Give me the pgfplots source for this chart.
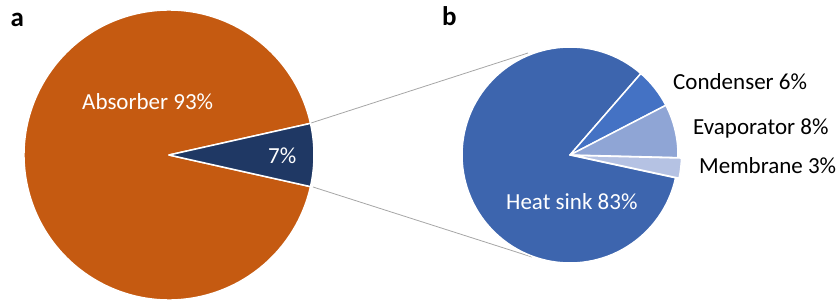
\documentclass[border=0pt]{standalone}
\usepackage{pgfplots}
\pgfplotsset{compat=1.18}
\usepackage{fontspec}
\setmainfont{Carlito}
\definecolor{absorber}{HTML}{C55A11}
\definecolor{other}{HTML}{1F3864}
\definecolor{heatsink}{HTML}{3D65AE}
\definecolor{condenser}{HTML}{4472C4}
\definecolor{evaporator}{HTML}{8FA5D5}
\definecolor{membrane}{HTML}{B5C2E3}
\definecolor{conn}{HTML}{A6A6A6}
% data (percent)
\def\vAbsorber{93}\def\vOther{7}
\def\vHeatsink{83}\def\vCondenser{6}\def\vEvaporator{8}\def\vMembrane{3}
% slice: cx, cy, r, start, end, colour
\newcommand\slice[6]{\fill[#6, draw=white, line width=1.5pt, line join=round]
  (axis cs:#1,#2) -- ++({#4}:#3pt) arc[start angle={#4}, end angle={#5}, radius=#3pt] -- cycle;}
\newcommand\lbl{\fontsize{23}{27}\selectfont}
\begin{document}
\begin{tikzpicture}
\begin{axis}[
  width=840pt, height=300pt, scale only axis,
  xmin=0, xmax=840, ymin=0, ymax=300,
  hide axis, clip=false,
]
% connector lines
\addplot[conn, line width=0.8pt] coordinates {(311,177) (528,247)};
\addplot[conn, line width=0.8pt] coordinates {(313,113) (532,43)};
% left pie
\slice{169}{145}{145}{3.6*\vOther/2}{360-3.6*\vOther/2}{absorber}
\slice{169}{145}{145}{-3.6*\vOther/2}{3.6*\vOther/2}{other}
% right pie, start angle -12.2
\slice{570}{145}{108}{-12.2+3.6*(\vMembrane+\vEvaporator+\vCondenser)}{-12.2+360}{heatsink}
\slice{570}{145}{108}{-12.2+3.6*(\vMembrane+\vEvaporator)}{-12.2+3.6*(\vMembrane+\vEvaporator+\vCondenser)}{condenser}
\slice{570}{145}{108}{-12.2+3.6*\vMembrane}{-12.2+3.6*(\vMembrane+\vEvaporator)}{evaporator}
\slice{573.5}{144.6}{108}{-12.2}{-12.2+3.6*\vMembrane}{membrane}
% labels
\node[anchor=base west, inner sep=0, text=white, font=\lbl] at (axis cs:82,190) {Absorber 93\%};
\node[anchor=base west, inner sep=0, text=white, font=\lbl] at (axis cs:268,137) {7\%};
\node[anchor=base west, inner sep=0, text=white, font=\lbl] at (axis cs:506,91) {Heat sink 83\%};
\node[anchor=base west, inner sep=0, font=\lbl] at (axis cs:673,210.7) {Condenser 6\%};
\node[anchor=base west, inner sep=0, font=\lbl] at (axis cs:693,165) {Evaporator 8\%};
\node[anchor=base west, inner sep=0, font=\lbl] at (axis cs:699,126.7) {Membrane 3\%};
\node[anchor=base west, inner sep=0, font={\fontsize{27}{32}\selectfont\bfseries}] at (axis cs:10.5,273) {a};
\node[anchor=base west, inner sep=0, font={\fontsize{27}{32}\selectfont\bfseries}] at (axis cs:442,274) {b};
\end{axis}
\pgfresetboundingbox
\path[use as bounding box] (0,0) rectangle (840pt,300pt);
\end{tikzpicture}
\end{document}
